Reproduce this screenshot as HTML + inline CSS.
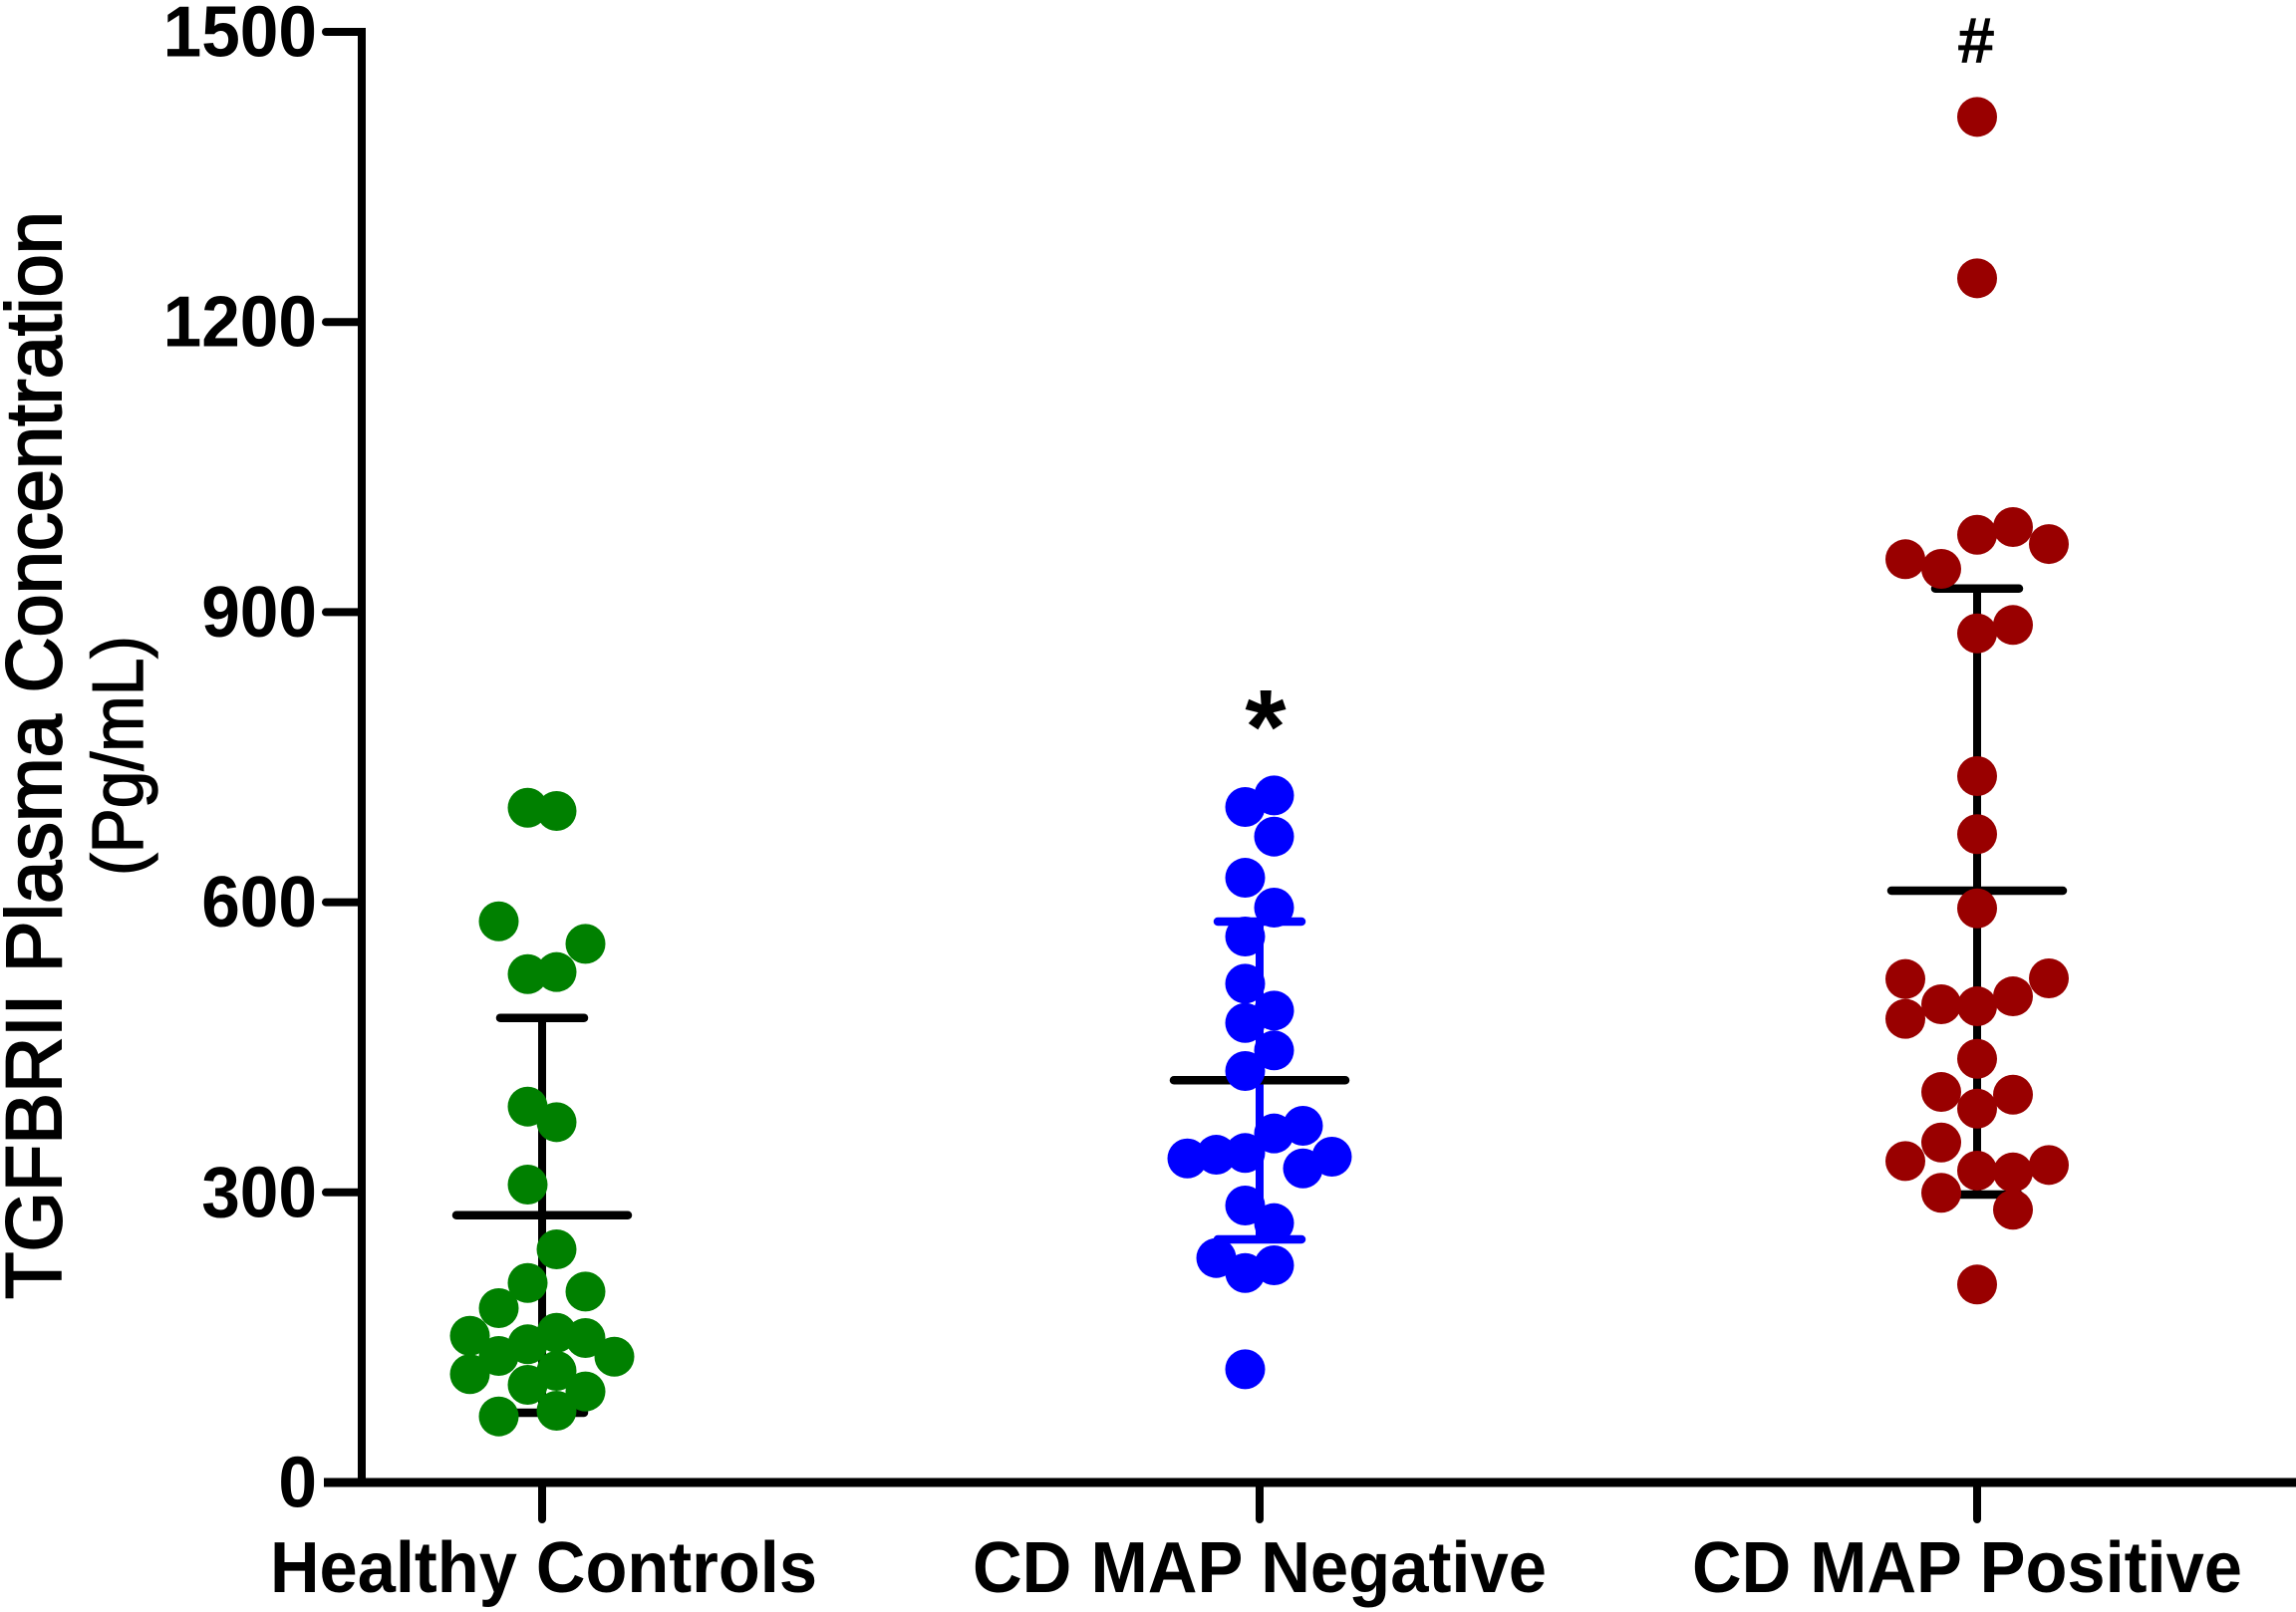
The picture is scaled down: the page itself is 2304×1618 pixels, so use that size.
<!DOCTYPE html>
<html lang="en">
<head>
<meta charset="utf-8">
<title>TGFBRII Plasma Concentration</title>
<style>
  html, body { margin: 0; padding: 0; background: #fff; }
  #chart { display: block; width: 2304px; height: 1618px; font-family: "Liberation Sans", Arial, sans-serif; }
</style>
</head>
<body>
<svg id="chart" xmlns="http://www.w3.org/2000/svg" width="2304" height="1618" viewBox="0 0 2304 1618">
  <rect x="0" y="0" width="2304" height="1618" fill="#fff"/>
  <g id="error-bars"></g>
  <g id="points"></g>
  <g id="axes"></g>
  <text transform="translate(61,1304) rotate(-90)" font-size="79" fill="#000" stroke="#000" stroke-width="2" textLength="1092" lengthAdjust="spacingAndGlyphs">TGFBRII Plasma Concentration</text>
  <text transform="translate(143,879) rotate(-90)" font-size="72" fill="#000" stroke="#000" stroke-width="1.4" textLength="241" lengthAdjust="spacingAndGlyphs">(Pg/mL)</text>
  <text x="1270" y="766" font-size="106" font-weight="bold" text-anchor="middle" fill="#000">*</text>
  <text x="1983" y="62" font-size="62" text-anchor="middle" fill="#000" stroke="#000" stroke-width="1.8">#</text>
</svg>
<script>
// ---- chart data ----
const categories = ['Healthy Controls', 'CD MAP Negative', 'CD MAP Positive'];
const yTickLabels = [0, 300, 600, 900, 1200, 1500];

const healthyValues = [697.7, 694.4, 580.3, 557.0, 525.7, 527.8, 388.7, 372.6, 308.0, 241.1, 206.3, 197.4, 180.3, 151.7, 142.9, 154.8, 149.4, 130.1, 130.8, 112.0, 115.4, 101.0, 94.1, 74.2, 68.3];
const healthyColumns = [-0.5, 0.5, -1.5, 1.5, -0.5, 0.5, -0.5, 0.5, -0.5, 0.5, -0.5, 1.5, -1.5, -2.5, -0.5, 0.5, 1.5, 2.5, -1.5, -2.5, 0.5, -0.5, 1.5, 0.5, -1.5];

const negativeValues = [710.5, 698.5, 667.9, 625.3, 594.4, 564.5, 515.8, 488.0, 475.2, 446.8, 425.5, 360.9, 368.8, 340.7, 338.9, 335.1, 336.9, 324.8, 286.4, 268.2, 232.1, 216.6, 224.6, 117.1];
const negativeColumns = [0.5, -0.5, 0.5, -0.5, 0.5, -0.5, -0.5, 0.5, -0.5, 0.5, -0.5, 0.5, 1.5, -0.5, -1.5, -2.5, 2.5, 1.5, -0.5, 0.5, -1.5, -0.5, 0.5, -0.5];

const positiveValues = [1412.1, 1245.2, 988.0, 980.0, 970.4, 954.7, 944.7, 886.7, 878.0, 730.4, 670.4, 593.7, 520.6, 521.3, 502.7, 494.5, 492.4, 479.4, 438.1, 403.8, 401.0, 386.6, 351.6, 332.4, 328.3, 322.5, 320.7, 299.5, 282.0, 204.7];
const positiveColumns = [0, 0, 1, 0, 2, -2, -1, 1, 0, 0, 0, 0, -2, 2, 1, -1, 0, -2, 0, -1, 1, 0, -1, -2, 2, 0, 1, -1, 1, 0];

const meanValues = [276.4, 415.9, 611.9];
const upperValues = [480.4, 580.0, 924.4];
const lowerValues = [72.1, 251.4, 297.7];

// ---- axis functions ----
const SVG_NS = 'http://www.w3.org/2000/svg';
const axisBottomPx = 1488;
const axisTopPx = 32;
const axisMax = 1500;
const firstCategoryPx = 544;
const categoryStepPx = 720;
const yScale = function (v) { return axisBottomPx - (v / axisMax) * (axisBottomPx - axisTopPx); };
const xScale = function (i) { return firstCategoryPx + i * categoryStepPx; };

const groupStyles = [
  { color: '#008000', bar: '#000000', columnWidth: 29, slug: 'healthy-controls', labelLeft: 271, labelWidth: 549 },
  { color: '#0000ff', bar: '#0000ff', columnWidth: 29, slug: 'cd-map-negative', labelLeft: 976, labelWidth: 576 },
  { color: '#990000', bar: '#000000', columnWidth: 36, slug: 'cd-map-positive', labelLeft: 1698, labelWidth: 552 }
];
const groupValues = [healthyValues, negativeValues, positiveValues];
const groupColumns = [healthyColumns, negativeColumns, positiveColumns];

function make(tag, props, parent) {
  const el = document.createElementNS(SVG_NS, tag);
  Object.keys(props).forEach(function (k) { el.setAttribute(k, props[k]); });
  parent.appendChild(el);
  return el;
}

const barsLayer = document.getElementById('error-bars');
const pointsLayer = document.getElementById('points');
const axesLayer = document.getElementById('axes');

// error bars and mean lines
categories.forEach(function (cat, i) {
  const style = groupStyles[i];
  const cx = xScale(i);
  const stem = make('line', { x1: cx, x2: cx, y1: yScale(upperValues[i]), y2: yScale(lowerValues[i]), stroke: style.bar, 'stroke-width': 8 }, barsLayer);
  
  
  const upper = make('line', { x1: cx - 42, x2: cx + 42, y1: yScale(upperValues[i]), y2: yScale(upperValues[i]), stroke: style.bar, 'stroke-width': 8.5, 'stroke-linecap': 'round' }, barsLayer);
  
  
  const lower = make('line', { x1: cx - 42, x2: cx + 42, y1: yScale(lowerValues[i]), y2: yScale(lowerValues[i]), stroke: style.bar, 'stroke-width': 8.5, 'stroke-linecap': 'round' }, barsLayer);
  
  
  const mean = make('line', { x1: cx - 86, x2: cx + 86, y1: yScale(meanValues[i]), y2: yScale(meanValues[i]), stroke: '#000', 'stroke-width': 8.5, 'stroke-linecap': 'round' }, barsLayer);
  
  
});

// points
groupValues.forEach(function (values, i) {
  const style = groupStyles[i];
  values.forEach(function (v, j) {
    const dot = make('circle', { cx: xScale(i) + groupColumns[i][j] * style.columnWidth, cy: yScale(v), r: 20, fill: style.color }, pointsLayer);
    
    
  });
});

// y axis
const yAxisLine = make('line', { x1: 363, x2: 363, y1: axisTopPx - 4, y2: axisBottomPx, stroke: '#000', 'stroke-width': 8 }, axesLayer);



yTickLabels.forEach(function (t) {
  const y = yScale(t);
  if (t !== 0) {
    const tick = make('line', { x1: 327, x2: 363, y1: y, y2: y, stroke: '#000', 'stroke-width': 8, 'stroke-linecap': 'round' }, axesLayer);
    
    
  }
  const label = make('text', { x: 318, y: y + 24.5, 'font-size': 72, 'font-weight': 'bold', 'text-anchor': 'end', fill: '#000', textLength: String(t).length * 38.6, lengthAdjust: 'spacingAndGlyphs' }, axesLayer);
  label.textContent = String(t);
  
  
});

// x axis
const xAxisLine = make('line', { x1: 325, x2: 2304, y1: axisBottomPx, y2: axisBottomPx, stroke: '#000', 'stroke-width': 9 }, axesLayer);



categories.forEach(function (cat, i) {
  const style = groupStyles[i];
  const cx = xScale(i);
  const tick = make('line', { x1: cx, x2: cx, y1: axisBottomPx, y2: 1525, stroke: '#000', 'stroke-width': 8, 'stroke-linecap': 'round' }, axesLayer);
  
  
  const label = make('text', { x: style.labelLeft, y: 1598, 'font-size': 72, 'font-weight': 'bold', fill: '#000', textLength: style.labelWidth, lengthAdjust: 'spacingAndGlyphs' }, axesLayer);
  label.textContent = cat;
  
  
});
</script>
</body>
</html>
